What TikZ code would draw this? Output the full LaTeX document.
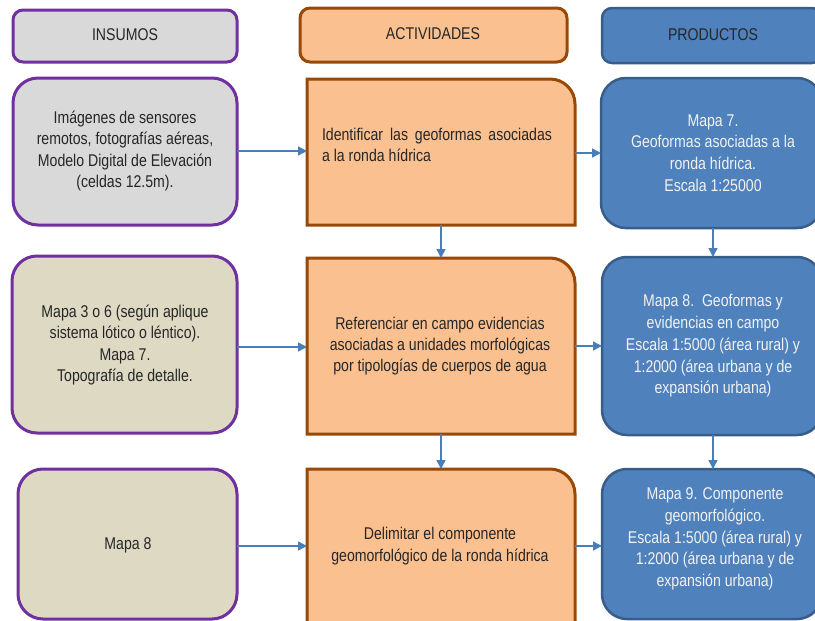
\documentclass[tikz,border=0pt]{standalone}
\usepackage{fontspec}
\setmainfont{Liberation Sans}[FakeStretch=0.83]
\usetikzlibrary{arrows.meta,backgrounds,fit}
\definecolor{purp}{HTML}{7030A0}
\definecolor{grayfill}{HTML}{D9D9D9}
\definecolor{tanfill}{HTML}{DDD9C3}
\definecolor{orfill}{HTML}{FAC090}
\definecolor{brownline}{HTML}{984807}
\definecolor{bluefill}{HTML}{4F81BD}
\definecolor{blueline}{HTML}{385D8A}
\definecolor{arrowc}{HTML}{4A7EBB}
\definecolor{txt}{HTML}{262626}
\definecolor{wtxt}{HTML}{F2F2F2}
\tikzset{
  basebox/.style={inner sep=0pt, outer sep=0pt},
  hdrin/.style={basebox, draw=purp, fill=grayfill, line width=3pt, rounded corners=10pt},
  hdract/.style={basebox, draw=brownline, fill=orfill, line width=3pt, rounded corners=10pt},
  hdrprod/.style={basebox, draw=blueline, fill=bluefill, line width=2.5pt, rounded corners=10pt},
  inbox/.style={basebox, draw=purp, line width=3pt, rounded corners=25pt},
  actshape/.style={draw=brownline, fill=orfill, line width=3pt},
  prodbox/.style={basebox, draw=blueline, fill=bluefill, line width=2.5pt, rounded corners=25pt},
  txtdark/.style={text=txt, align=center, font=\fontsize{17}{21.3}\selectfont, inner sep=0pt},
  txtwhite/.style={text=wtxt, align=center, font=\fontsize{17}{21.8}\selectfont, inner sep=0pt},
  arr/.style={draw=arrowc, line width=1.5pt, -{Triangle[length=9pt,width=9pt]}},
}
\begin{document}
\begin{tikzpicture}[x=1pt,y=-1pt]
\useasboundingbox (0,0) rectangle (815,621);
\clip (0,0) rectangle (815,621);
% headers
\node[hdrin, fit={(13,10)(237,62)}] (hin) {};
\node[hdract, fit={(300,8)(567,62)}] (hact) {};
\node[hdrprod, fit={(602,8)(822,63)}] (hprod) {};
\node[txtdark] (thin) at (125,35) {INSUMOS};
\node[txtdark] (thact) at (433,34) {ACTIVIDADES};
\node[txtdark] (thprod) at (713,35) {PRODUCTOS};
% row 1
\node[inbox, fill=grayfill, fit={(13,78)(237,225)}] (in1) {};
\node[basebox, fit={(307,79)(575,225)}] (a1) {};
\node[prodbox, fit={(601,78)(822,228)}] (p1) {};
% row 2
\node[inbox, fill=tanfill, fit={(12,256)(237,433)}] (in2) {};
\node[basebox, fit={(307,258)(575,434)}] (a2) {};
\node[prodbox, fit={(602,257)(822,435)}] (p2) {};
% row 3
\node[inbox, fill=tanfill, fit={(18,469)(237,619)}] (in3) {};
\node[basebox, fit={(307,469)(575,650)}] (a3) {};
\node[prodbox, fit={(602,469)(822,619)}] (p3) {};
\begin{scope}[on background layer]
\foreach \n in {a1,a2,a3}{
  \filldraw[actshape] (\n.south west) -- (\n.north west) -- ([xshift=-25pt]\n.north east)
    arc[start angle=90, end angle=0, radius=25pt] -- (\n.south east) -- cycle;
}
\end{scope}
% texts
\node[txtdark] (tin1) at (125,151) {Imágenes de sensores\\remotos, fotografías aéreas,\\Modelo Digital de Elevación\\(celdas 12.5m).};
\node[txtdark, align=left] (ta1) at (437,145) {\hbox to 230pt{Identificar\hfill las\hfill geoformas\hfill asociadas}\\a la ronda hídrica};
\node[txtwhite] (tp1) at (713,153) {Mapa 7.\\Geoformas asociadas a la\\ronda hídrica.\\Escala 1:25000};
\node[txtdark] (tin2) at (125,345) {Mapa 3 o 6 (según aplique\\sistema lótico o léntico).\\Mapa 7.\\Topografía de detalle.};
\node[txtdark] (ta2) at (440,346) {Referenciar en campo evidencias\\asociadas a unidades morfológicas\\por tipologías de cuerpos de agua};
\node[txtwhite] (tp2) at (713,346) {Mapa 8.\ \ Geoformas y\\evidencias en campo\\Escala 1:5000 (área rural) y\\1:2000 (área urbana y de\\expansión urbana)};
\node[txtdark] (tin3) at (128,545) {Mapa 8};
\node[txtdark] (ta3) at (440,546) {Delimitar el componente\\geomorfológico de la ronda hídrica};
\node[txtwhite] (tp3) at (715,539) {Mapa 9. Componente\\geomorfológico.\\Escala 1:5000 (área rural) y\\1:2000 (área urbana y de\\expansión urbana)};
% connectors
\coordinate (r1) at (0,151);
\coordinate (r1b) at (0,153);
\coordinate (r2) at (0,347);
\coordinate (r2b) at (0,346);
\coordinate (r3) at (0,546);
\coordinate (cxa) at (441,0);
\coordinate (cxp) at (713,0);
\draw[arr] (in1.east |- r1) -- (a1.west |- r1);
\draw[arr] (a1.east |- r1b) -- (p1.west |- r1b);
\draw[arr] (in2.east |- r2) -- (a2.west |- r2);
\draw[arr] (a2.east |- r2b) -- (p2.west |- r2b);
\draw[arr] (in3.east |- r3) -- (a3.west |- r3);
\draw[arr] (a3.east |- r3) -- (p3.west |- r3);
\draw[arr] (cxa |- a1.south) -- (cxa |- a2.north);
\draw[arr] (cxa |- a2.south) -- (cxa |- a3.north);
\draw[arr] (cxp |- p1.south) -- (cxp |- p2.north);
\draw[arr] (cxp |- p2.south) -- (cxp |- p3.north);
\end{tikzpicture}
\end{document}
